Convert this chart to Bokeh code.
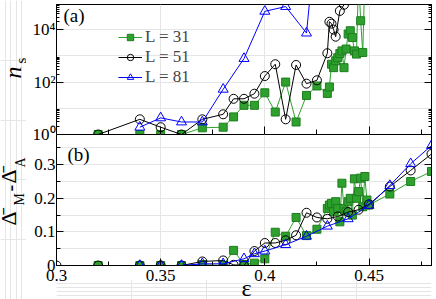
from bokeh.plotting import figure
from bokeh.layouts import column, row
from bokeh.models import (Range1d, LinearAxis, LogAxis, FixedTicker, Label,
                          Legend, LegendItem, CustomJSTickFormatter)
from bokeh.embed import file_html
from bokeh.resources import INLINE

# ---------------- data ----------------
# panel (a): n_s  (values beyond the top of the axis run off the panel)
eps_31_top = [0.32, 0.34, 0.35, 0.36, 0.37, 0.38, 0.385, 0.39, 0.395, 0.40, 0.405, 0.41, 0.415,
              0.42, 0.425, 0.43, 0.431, 0.432, 0.433, 0.434, 0.435, 0.436, 0.437, 0.438, 0.439,
              0.44, 0.441, 0.442, 0.443, 0.444, 0.445, 0.446, 0.447, 0.448]
ns_31 = [1, 1, 1, 1, 1.8, 1.9, 4.7, 13, 13, 39, 7.2, 100, 3, 31, 71, 37, 65, 480, 355, 650, 850,
         1230, 1550, 355, 1820, 6800, 9100, 5000, 1550, 1170, 1e6, 21900, 1350, 1e6]

eps_51_top = [0.32, 0.34, 0.35, 0.36, 0.37, 0.38, 0.385, 0.39, 0.395, 0.40, 0.405, 0.41, 0.415,
              0.42, 0.425, 0.43, 0.431, 0.432, 0.433, 0.434, 0.436, 0.438, 0.44]
ns_51 = [1, 3.8, 1.9, 1, 3.8, 5.9, 23, 23, 36, 170, 480, 3.8, 450, 87, 117, 1260, 20000, 17000,
         10000, 5400, 52000, 89000, 1e6]

eps_81_top = [0.34, 0.35, 0.36, 0.37, 0.38, 0.39, 0.40, 0.41, 0.42, 0.43]
ns_81 = [1.9, 4.3, 3, 3, 53, 790, 50000, 76000, 7400, 1e12]

# panel (b): mean Delta_M - mean Delta_A
eps_31_bot = [0.32, 0.34, 0.35, 0.36, 0.37, 0.38, 0.385, 0.39, 0.395, 0.40, 0.405, 0.41, 0.415,
              0.42, 0.425, 0.43, 0.431, 0.432, 0.433, 0.434, 0.435, 0.436, 0.437, 0.438, 0.439,
              0.44, 0.441, 0.442, 0.443, 0.444, 0.445, 0.446, 0.447, 0.448, 0.449, 0.45, 0.46,
              0.47, 0.48]
d_31 = [0, 0, 0, 0, 0.003, 0, 0.045, 0.003, 0.007, 0.02, 0.099, 0.087, 0.143, 0.089, 0.108, 0.17,
        0.18, 0.185, 0.16, 0.19, 0.17, 0.13, 0.245, 0.17, 0.16, 0.19, 0.2, 0.15, 0.258, 0.2, 0.22,
        0.26, 0.175, 0.265, 0.195, 0.18, 0.213, 0.25, 0.28]

eps_51_bot = [0.30, 0.32, 0.34, 0.35, 0.36, 0.37, 0.38, 0.385, 0.39, 0.395, 0.40, 0.405, 0.41,
              0.415, 0.42, 0.425, 0.43, 0.435, 0.44, 0.445, 0.45, 0.46, 0.47, 0.48]
d_51 = [0, 0, 0, 0, 0, 0.012, 0.015, 0.002, 0, 0.043, 0.067, 0.067, 0.075, 0.09, 0.157, 0.143,
        0.139, 0.146, 0.159, 0.166, 0.182, 0.235, 0.283, 0.332]

eps_81_bot = [0.34, 0.35, 0.36, 0.37, 0.38, 0.39, 0.395, 0.40, 0.41, 0.42, 0.43, 0.44, 0.45, 0.46,
              0.47, 0.48]
d_81 = [0, 0, 0, 0.005, 0.005, 0.02, 0.035, 0.043, 0.062, 0.087, 0.117, 0.139, 0.179, 0.238,
        0.303, 0.357]

legend_labels = ["L = 31", "L = 51", "L = 81"]

x_major = [0.3, 0.35, 0.4, 0.45]
x_minor = [0.325, 0.375, 0.425, 0.475]
d_major = [0, 0.1, 0.2, 0.3]
d_minor = [0.05, 0.15, 0.25, 0.35]
n_major = [1, 100, 10000]
n_major_labels = ["10\u2070", "10\u00b2", "10\u2074"]
n_minor = [k * 10 ** e for e in (0, 2, 4) for k in range(2, 10)]

# ---------------- style constants ----------------
FONT = "Liberation Serif"
GREEN = "#2ea02e"
GREEN_DARK = "#1d7d1d"
BLUE = "#0000ff"
X0, X1 = 0.3, 0.48
D_TOP = 0.39
N_TOP = 10 ** 4.96
W, H = 436, 299
WL = 26                 # strip that holds the rotated y titles
WP = W - WL             # width of the panel figures
OVER = 9                # border overlap between panel (a) and panel (b)
TOP_H = 4 + 130 + OVER
BOT_H = H - TOP_H + 2 * OVER
XL_H = 20               # strip with the x title, lying over panel (b)'s lower border

xr = Range1d(X0, X1)

num_fmt = CustomJSTickFormatter(code="return String(Math.round(tick*1000)/1000)")
blank_fmt = CustomJSTickFormatter(code="return ''")
log_fmt = CustomJSTickFormatter(args=dict(vals=n_major, labs=n_major_labels),
                                code="const i = vals.indexOf(tick); return i >= 0 ? labs[i] : ''")


def style(ax, major=7, minor=4, labels=True):
    ax.major_tick_in = major
    ax.major_tick_out = 0
    ax.minor_tick_in = minor
    ax.minor_tick_out = 0
    ax.axis_line_color = "black"
    ax.major_tick_line_color = "black"
    ax.minor_tick_line_color = "black"
    ax.major_label_text_font = FONT
    ax.major_label_text_color = "black"
    if labels:
        ax.major_label_text_font_size = "17px"
        ax.major_label_standoff = 1
    else:
        ax.formatter = blank_fmt
        ax.major_label_text_font_size = "0px"
        ax.major_label_standoff = 0
    return ax


def base_fig(height, y_range, y_type, **kw):
    f = figure(width=WP, height=height, output_backend="svg", toolbar_location=None,
               x_range=xr, y_range=y_range, y_axis_type=y_type,
               x_axis_location=None, y_axis_location=None,
               min_border_left=56 - WL, min_border_right=5, **kw)
    f.outline_line_color = "black"
    f.outline_line_width = 1
    f.background_fill_color = "white"
    f.border_fill_alpha = 0
    return f


def lab(fig, text, x, y, size, angle=0.0, style="normal", align="left", baseline="alphabetic"):
    fig.add_layout(Label(text=text, x=x, y=y, x_units="screen", y_units="screen", angle=angle,
                         text_font=FONT, text_font_size=size, text_font_style=style,
                         text_align=align, text_baseline=baseline, text_color="black"))


# ---------------- strip with the rotated y titles ----------------
tf = figure(width=WL, height=H, output_backend="svg", toolbar_location=None,
            x_range=Range1d(0, 1), y_range=Range1d(0, 1), x_axis_location=None,
            y_axis_location=None, min_border=0)
tf.outline_line_color = None
tf.background_fill_color = "white"
tf.border_fill_color = "white"

ROT = 1.5707963267948966
lab(tf, "n", 12, 221, "24px", angle=ROT, style="italic")
lab(tf, "s", 20, 236, "15px", angle=ROT)
lab(tf, "\u0394\u0304", 8, 74, "22px", angle=ROT)
lab(tf, "M", 19, 94, "14px", angle=ROT)
lab(tf, "-", 9, 108, "20px", angle=ROT)
lab(tf, "\u0394\u0304", 8, 116, "22px", angle=ROT)
lab(tf, "A", 20, 132, "14px", angle=ROT)

# ---------------- panel (a) ----------------
pa = base_fig(TOP_H, Range1d(1, N_TOP), "log", min_border_top=4, min_border_bottom=OVER)
pa.add_layout(style(LogAxis(ticker=FixedTicker(ticks=n_major, minor_ticks=n_minor),
                            formatter=log_fmt), 7, 3), "left")
pa.add_layout(style(LogAxis(ticker=FixedTicker(ticks=n_major, minor_ticks=n_minor)), 7, 3,
                    labels=False), "right")
pa.add_layout(style(LinearAxis(ticker=FixedTicker(ticks=x_major, minor_ticks=x_minor)), 8, 5,
                    labels=False), "below")

g1 = pa.line(eps_31_top, ns_31, line_color=GREEN, line_width=1)
g2 = pa.scatter(eps_31_top, ns_31, marker="square", size=8, fill_color=GREEN,
                line_color=GREEN_DARK)
k1 = pa.line(eps_51_top, ns_51, line_color="black", line_width=1)
k2 = pa.scatter(eps_51_top, ns_51, marker="circle", size=9, fill_color=None, line_color="black")
b1 = pa.line(eps_81_top, ns_81, line_color=BLUE, line_width=1)
b2 = pa.scatter(eps_81_top, ns_81, marker="triangle", size=10, fill_color=None, line_color=BLUE)

legend = Legend(items=[LegendItem(label=legend_labels[0], renderers=[g1, g2]),
                       LegendItem(label=legend_labels[1], renderers=[k1, k2]),
                       LegendItem(label=legend_labels[2], renderers=[b1, b2])],
                location=(62, 47), background_fill_alpha=0, border_line_color=None,
                padding=0, margin=0, spacing=-2, glyph_width=24, glyph_height=16,
                label_height=16, label_standoff=3, label_text_font=FONT,
                label_text_font_size="17px")
pa.add_layout(legend)
lab(pa, "(a)", 7, 130, "19px", baseline="top")

# ---------------- panel (b) ----------------
pb = base_fig(BOT_H, Range1d(0, D_TOP), "linear", min_border_top=OVER, min_border_bottom=34)
pb.add_layout(style(LinearAxis(ticker=FixedTicker(ticks=d_major, minor_ticks=d_minor),
                               formatter=num_fmt)), "left")
pb.add_layout(style(LinearAxis(ticker=FixedTicker(ticks=d_major, minor_ticks=d_minor)),
                    labels=False), "right")
xb = style(LinearAxis(ticker=FixedTicker(ticks=x_major, minor_ticks=x_minor), formatter=num_fmt))
xb.major_label_standoff = 4
pb.add_layout(xb, "below")

pb.line(eps_31_bot, d_31, line_color=GREEN, line_width=1)
pb.scatter(eps_31_bot, d_31, marker="square", size=8, fill_color=GREEN, line_color=GREEN_DARK)
pb.line(eps_51_bot, d_51, line_color="black", line_width=1)
pb.scatter(eps_51_bot, d_51, marker="circle", size=9, fill_color=None, line_color="black")
pb.line(eps_81_bot, d_81, line_color=BLUE, line_width=1)
pb.scatter(eps_81_bot, d_81, marker="triangle", size=10, fill_color=None, line_color=BLUE)
lab(pb, "(b)", 11, 122, "19px", baseline="top")

# ---------------- strip with the x title ----------------
xf = figure(width=WP, height=XL_H, output_backend="svg", toolbar_location=None,
            x_range=Range1d(0, 1), y_range=Range1d(0, 1), x_axis_location=None,
            y_axis_location=None, min_border=0)
xf.outline_line_color = None
xf.background_fill_alpha = 0
xf.border_fill_alpha = 0
lab(xf, "\u03b5", 190, -1, "24px", align="center", baseline="bottom")

# overlaps: panel (b) over panel (a)'s lower border, the x title strip over panel (b)'s
pb.margin = (-2 * OVER, 0, 0, 0)
xf.margin = (-XL_H, 0, 0, 0)

layout = row(tf, column(pa, pb, xf, spacing=0), spacing=0)
open("out.html", "w").write(file_html(layout, INLINE))
